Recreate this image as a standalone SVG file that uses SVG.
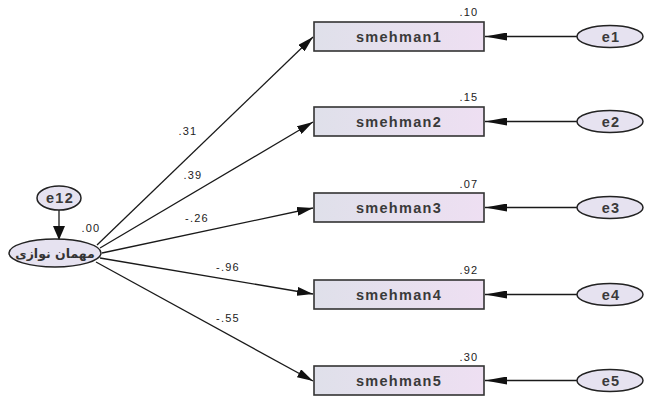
<svg xmlns="http://www.w3.org/2000/svg" width="647" height="396" viewBox="0 0 647 396">
<style>
.box{stroke:#333;stroke-width:1.6;fill:url(#gr)}
.ell{stroke:#222;stroke-width:1.5;fill:#e6e2f0}
.t{font-family:"Liberation Sans",Arial,sans-serif;font-size:14.5px;font-weight:bold;letter-spacing:1.3px;fill:#3a3a3a;text-anchor:middle}
.n{font-family:"Liberation Sans",Arial,sans-serif;font-size:11px;letter-spacing:1.2px;fill:#222;text-anchor:middle}
.c line{stroke:#1a1a1a;stroke-width:1.3}
</style>
<defs>
<linearGradient id="gr" x1="0" y1="0" x2="1" y2="0">
<stop offset="0" stop-color="#dfe0ea"/>
<stop offset="1" stop-color="#eedff2"/>
</linearGradient>
<marker id="ah" markerUnits="userSpaceOnUse" markerWidth="22" markerHeight="8" refX="22" refY="4" orient="auto"><path d="M0,0 L22,4 L0,8 z" fill="#111"/></marker>
<marker id="ad" markerUnits="userSpaceOnUse" markerWidth="16" markerHeight="9" refX="16" refY="4.5" orient="auto"><path d="M0,0 L16,4.5 L0,9 z" fill="#111"/></marker>
<marker id="av" markerUnits="userSpaceOnUse" markerWidth="14" markerHeight="12" refX="14" refY="6" orient="auto"><path d="M0,0 L14,6 L0,12 z" fill="#111"/></marker>
</defs>
<rect width="647" height="396" fill="#fff"/>
<g class="c" id="connectors">
<line x1="59" y1="210" x2="59" y2="240" marker-end="url(#av)"/>
<line x1="97" y1="245" x2="313" y2="37" marker-end="url(#ad)"/>
<line x1="100" y1="248" x2="313" y2="122" marker-end="url(#ad)"/>
<line x1="102" y1="253" x2="313" y2="208" marker-end="url(#ad)"/>
<line x1="100" y1="258" x2="313" y2="294" marker-end="url(#ad)"/>
<line x1="96" y1="262" x2="313" y2="381" marker-end="url(#ad)"/>
<line x1="577" y1="36.5" x2="485" y2="36.5" marker-end="url(#ah)"/>
<line x1="577" y1="121.5" x2="485" y2="121.5" marker-end="url(#ah)"/>
<line x1="577" y1="207.5" x2="485" y2="207.5" marker-end="url(#ah)"/>
<line x1="577" y1="294.5" x2="485" y2="294.5" marker-end="url(#ah)"/>
<line x1="577" y1="380.5" x2="485" y2="380.5" marker-end="url(#ah)"/>
</g>
<g id="labels">
<text class="n" x="188" y="135">.31</text>
<text class="n" x="193" y="179">.39</text>
<text class="n" x="197" y="222">-.26</text>
<text class="n" x="228" y="271">-.96</text>
<text class="n" x="228" y="322">-.55</text>
</g>
<g id="e12"><ellipse class="ell" cx="59" cy="198" rx="22" ry="12"/><text class="t" x="60" y="203" letter-spacing="0.8">e12</text></g>
<g id="mehman"><ellipse class="ell" cx="55" cy="253" rx="46" ry="14"/><text x="55" y="258" font-family="'DejaVu Sans','Noto Sans',sans-serif" font-size="12.5" font-weight="bold" fill="#333" text-anchor="middle">مهمان نوازی</text><text class="n" x="91" y="232">.00</text></g>
<g id="smehman1"><rect class="box" x="314" y="22" width="170" height="29"/><text class="t" x="399" y="41.5">smehman1</text><text class="n" x="469" y="16">.10</text></g>
<g id="smehman2"><rect class="box" x="314" y="107" width="170" height="29"/><text class="t" x="399" y="126.5">smehman2</text><text class="n" x="469" y="101">.15</text></g>
<g id="smehman3"><rect class="box" x="314" y="193" width="170" height="29"/><text class="t" x="399" y="212.5">smehman3</text><text class="n" x="469" y="188">.07</text></g>
<g id="smehman4"><rect class="box" x="314" y="280" width="170" height="29"/><text class="t" x="399" y="299.5">smehman4</text><text class="n" x="469" y="274">.92</text></g>
<g id="smehman5"><rect class="box" x="314" y="366" width="170" height="29"/><text class="t" x="399" y="385.5">smehman5</text><text class="n" x="469" y="361">.30</text></g>
<g id="e1"><ellipse class="ell" cx="610" cy="36.5" rx="33" ry="11"/><text class="t" x="611" y="41.5">e1</text></g>
<g id="e2"><ellipse class="ell" cx="610" cy="121.5" rx="33" ry="11"/><text class="t" x="611" y="126.5">e2</text></g>
<g id="e3"><ellipse class="ell" cx="610" cy="207.5" rx="33" ry="11"/><text class="t" x="611" y="212.5">e3</text></g>
<g id="e4"><ellipse class="ell" cx="610" cy="294.5" rx="33" ry="11"/><text class="t" x="611" y="299.5">e4</text></g>
<g id="e5"><ellipse class="ell" cx="610" cy="380.5" rx="33" ry="11"/><text class="t" x="611" y="385.5">e5</text></g>
</svg>
